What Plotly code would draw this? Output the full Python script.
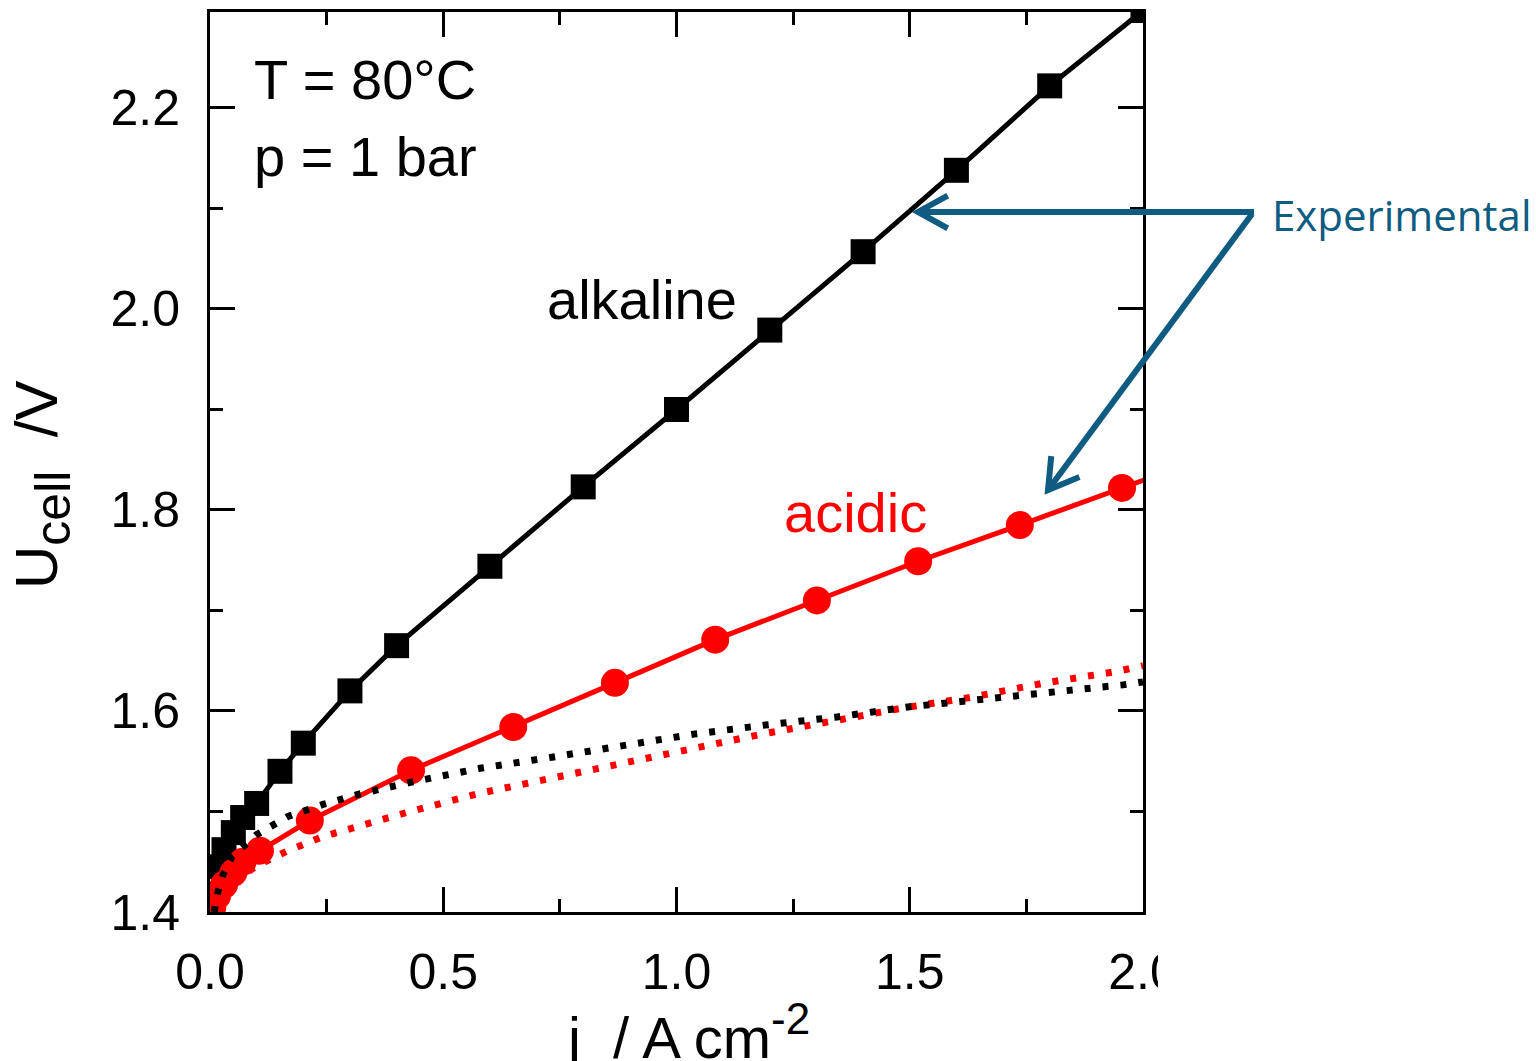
import numpy as np
import plotly.graph_objects as go

# ---------------- data ----------------
alk_j = [0.005, 0.015, 0.03, 0.05, 0.07, 0.10, 0.15, 0.20, 0.30, 0.40, 0.60, 0.80, 1.00, 1.20, 1.40, 1.60, 1.80, 2.00]
alk_U = [1.418, 1.445, 1.462, 1.479, 1.494, 1.508, 1.540, 1.568, 1.620, 1.665, 1.744, 1.823, 1.900, 1.979, 2.057, 2.138, 2.222, 2.297]

acid_j = [0.005, 0.015, 0.03, 0.05, 0.07, 0.107, 0.214, 0.431, 0.650, 0.868, 1.083, 1.301, 1.518, 1.736, 1.955, 2.17]
acid_U = [1.405, 1.416, 1.427, 1.439, 1.450, 1.461, 1.491, 1.541, 1.584, 1.628, 1.671, 1.710, 1.749, 1.785, 1.822, 1.858]

alk_theo_j = [0.009, 0.017, 0.028, 0.047, 0.10, 0.167, 0.242, 0.317, 0.429, 0.579, 0.733, 0.885, 1.037, 1.190, 1.344, 1.496, 1.651, 1.807, 1.957, 2.0]
alk_theo_U = [1.400, 1.420, 1.437, 1.455, 1.477, 1.495, 1.507, 1.517, 1.529, 1.543, 1.554, 1.565, 1.577, 1.586, 1.594, 1.604, 1.611, 1.619, 1.626, 1.629]

acid_theo_j = [0.012, 0.03, 0.06, 0.10, 0.167, 0.242, 0.317, 0.429, 0.577, 0.729, 0.879, 1.029, 1.183, 1.335, 1.486, 1.636, 1.790, 1.940, 2.0]
acid_theo_U = [1.400, 1.418, 1.433, 1.446, 1.461, 1.475, 1.485, 1.500, 1.518, 1.533, 1.547, 1.563, 1.577, 1.590, 1.603, 1.614, 1.628, 1.639, 1.645]

x_ticks = [0.0, 0.5, 1.0, 1.5, 2.0]
x_ticklabels = ["0.0", "0.5", "1.0", "1.5", "2.0"]
y_ticks = [1.4, 1.6, 1.8, 2.0, 2.2]
y_ticklabels = ["1.4", "1.6", "1.8", "2.0", "2.2"]

# ---------------- layout geometry ----------------
W, H = 1536, 1061
L, R, T, B = 210, 393, 12, 149
PW, PH = W - L - R, H - T - B

def px2paper(px, py):
    return (px - L) / PW, (H - B - py) / PH

FONT = "Liberation Sans, Arial, sans-serif"
ARROW = "#0F5B82"

fig = go.Figure()

fig.add_trace(go.Scatter(x=alk_j, y=alk_U, mode="lines+markers",
                         line=dict(color="black", width=5),
                         marker=dict(symbol="square", size=25, color="black"),
                         showlegend=False))
fig.add_trace(go.Scatter(x=acid_j, y=acid_U, mode="lines+markers",
                         line=dict(color="#FF0000", width=5),
                         marker=dict(symbol="circle", size=28, color="#FF0000"),
                         showlegend=False))
fig.add_trace(go.Scatter(x=acid_theo_j, y=acid_theo_U, mode="lines",
                         line=dict(color="#FF0000", width=7, dash="6px,12px"),
                         showlegend=False))
fig.add_trace(go.Scatter(x=alk_theo_j, y=alk_theo_U, mode="lines",
                         line=dict(color="black", width=7, dash="6px,12px"),
                         showlegend=False))

axis_common = dict(showline=True, linecolor="black", linewidth=3, mirror="ticks",
                   ticks="inside", ticklen=25, tickwidth=3, tickcolor="black",
                   showgrid=False, zeroline=False, automargin=False,
                   tickfont=dict(family=FONT, size=50, color="black"))

fig.update_xaxes(range=[0, 2.0], tickvals=x_ticks, ticktext=x_ticklabels,
                 minor=dict(ticks="inside", ticklen=13, tickwidth=3, tickcolor="black", dtick=0.25, showgrid=False),
                 ticklabelstandoff=14,
                 **axis_common)
fig.update_yaxes(range=[1.4, 2.2955], tickvals=y_ticks, ticktext=y_ticklabels,
                 minor=dict(ticks="inside", ticklen=13, tickwidth=3, tickcolor="black", dtick=0.1, showgrid=False),
                 ticklabelstandoff=17,
                 **axis_common)

# axis titles
xt, yt = px2paper(688, 1032)
fig.add_annotation(x=xt, y=yt, xref="paper", yref="paper", showarrow=False,
                   xanchor="center", yanchor="middle",
                   text="j  / A cm<sup><span style='font-size:44px'>-2</span></sup>",
                   font=dict(family=FONT, size=58, color="black"))
xt, yt = px2paper(42, 485)
fig.add_annotation(x=xt, y=yt, xref="paper", yref="paper", showarrow=False,
                   xanchor="center", yanchor="middle", textangle=-90,
                   text="U<sub><span style='font-size:50px'>cell</span></sub>  /V",
                   font=dict(family=FONT, size=60, color="black"))

annos = [
    dict(x=0.09, y=2.228, text="T = 80°C", xanchor="left", color="black"),
    dict(x=0.09, y=2.152, text="p = 1 bar", xanchor="left", color="black"),
    dict(x=0.926, y=2.009, text="alkaline", xanchor="center", color="black"),
    dict(x=1.383, y=1.798, text="acidic", xanchor="center", color="#FF0000"),
]
for a in annos:
    fig.add_annotation(x=a["x"], y=a["y"], text=a["text"], xref="x", yref="y",
                       xanchor=a["xanchor"], yanchor="middle", showarrow=False,
                       font=dict(family=FONT, size=56, color=a["color"]))

ex, ey = px2paper(1270, 215)
fig.add_annotation(x=ex, y=ey, xref="paper", yref="paper", text="Experimental",
                   xanchor="left", yanchor="middle", showarrow=False,
                   font=dict(family="Open Sans, Noto Sans, sans-serif", size=42, color=ARROW))

# arrows (pixel geometry -> paper coordinates)
def arrow(start, tip, arm=34, ang=30):
    sx, sy = start
    tx, ty = tip
    d = np.array([sx - tx, sy - ty], dtype=float)
    d /= np.linalg.norm(d)
    pts = []
    for s in (1, -1):
        a = np.deg2rad(ang * s)
        rx = d[0] * np.cos(a) - d[1] * np.sin(a)
        ry = d[0] * np.sin(a) + d[1] * np.cos(a)
        pts.append((tx + arm * rx, ty + arm * ry))
    p = lambda q: "%.5f,%.5f" % px2paper(*q)
    body = "M%s L%s" % (p(start), p(tip))
    head = "M%s L%s L%s" % (p(pts[0]), p(tip), p(pts[1]))
    for path in (body, head):
        fig.add_shape(type="path", path=path, xref="paper", yref="paper",
                      line=dict(color=ARROW, width=6), layer="above")

arrow((1254, 212), (918, 212), arm=34, ang=29)
arrow((1252, 214), (1048, 490), arm=34, ang=31)

# crop of the "2.0" tick label as in the reference image
x0, _ = px2paper(1158, 0)
x1, _ = px2paper(1200, 0)
_, y0 = px2paper(0, 1000)
_, y1 = px2paper(0, 930)
fig.add_shape(type="rect", x0=x0, x1=x1, y0=y0, y1=y1, xref="paper", yref="paper",
              fillcolor="white", line=dict(width=0), layer="above")

fig.update_layout(width=W, height=H, margin=dict(l=L, r=R, t=T, b=B, pad=0),
                  paper_bgcolor="white", plot_bgcolor="white",
                  font=dict(family=FONT, color="black"))

fig.write_html("out.html")
